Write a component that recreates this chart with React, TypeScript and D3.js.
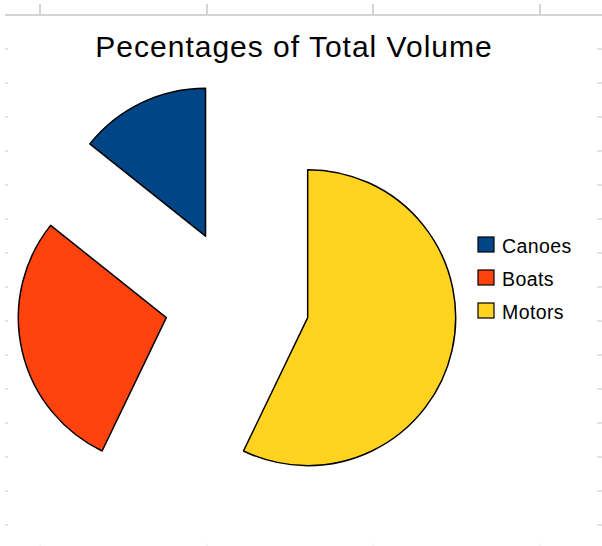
import React from "react";
import * as d3 from "d3";

const categories = ["Canoes", "Boats", "Motors"];
const values = [5, 10, 20];
const colors = ["#004586", "#ff420e", "#ffd320"];
const title = "Pecentages of Total Volume";
const gridCols = [40, 207, 373, 540];
const gridRows = d3.range(49, 530, 34);

export default function App() {
  const W = 602, H = 546;
  const cx = 237, cy = 301.5, r = 148, explode = 72.5;
  const pie = d3.pie<number>().sort(null).startAngle(0).endAngle(-2 * Math.PI);
  const arcs = pie(values);
  const arc = d3.arc<d3.PieArcDatum<number>>().innerRadius(0).outerRadius(r);
  return (
    <svg width={W} height={H} style={{ position: "absolute", left: 0, top: 0, background: "#fff" }}
      fontFamily="'Liberation Sans', Arial, sans-serif">
      <rect x={0} y={0} width={W} height={H} fill="#fff" />
      <line x1={5} x2={W} y1={15} y2={15} stroke="#d4d4d4" strokeWidth={2} />
      {gridCols.map((x) => (
        <g key={x}>
          <line x1={x} x2={x} y1={4} y2={16} stroke="#d4d4d4" strokeWidth={2} />
          <line x1={x} x2={x} y1={543} y2={546} stroke="#eeeeee" strokeWidth={1} />
        </g>
      ))}
      {gridRows.map((y) => (
        <g key={y}>
          <line x1={5} x2={8} y1={y} y2={y} stroke="#c8c8c8" strokeWidth={1} />
          <line x1={597} x2={602} y1={y} y2={y} stroke="#c8c8c8" strokeWidth={1} />
        </g>
      ))}
      <text x={294} y={57} textAnchor="middle" fontSize={30} letterSpacing={1} fill="#000">{title}</text>
      {arcs.map((a, i) => {
        const mid = (a.startAngle + a.endAngle) / 2;
        const dx = Math.sin(mid) * explode;
        const dy = -Math.cos(mid) * explode;
        return (
          <path key={categories[i]} d={arc(a) || ""} transform={`translate(${cx + dx},${cy + dy})`}
            fill={colors[i]} stroke="#000" strokeWidth={1.5} strokeLinejoin="round" />
        );
      })}
      {categories.map((c, i) => (
        <g key={c} transform={`translate(478,${237 + i * 33})`}>
          <rect x={0} y={0} width={16} height={15} fill={colors[i]} stroke="#000" strokeWidth={1.2} />
          <text x={24} y={16} fontSize={19.5} letterSpacing={0.4} fill="#000">{c}</text>
        </g>
      ))}
    </svg>
  );
}
